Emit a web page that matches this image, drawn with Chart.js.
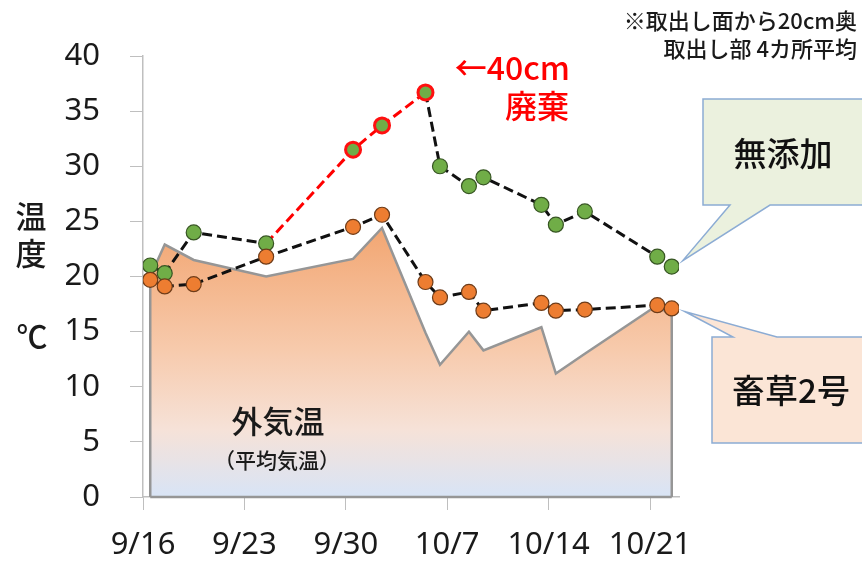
<!DOCTYPE html>
<html>
<head>
<meta charset="utf-8">
<script src="https://cdn.jsdelivr.net/npm/chart.js@4.4.1/dist/chart.umd.min.js"></script>
<style>
  html, body { margin: 0; padding: 0; background: #ffffff; }
  #wrap { width: 862px; height: 562px; position: relative; }
</style>
</head>
<body>
<div id="wrap"><canvas id="c" width="862" height="562"></canvas></div>
<script>
// Sampling dates (month/day)
const dates = ['9/16','9/17','9/19','9/24','9/30','10/2','10/5','10/6','10/8','10/9','10/13','10/14','10/16','10/21','10/22'];
// 無添加 — silage temperature, 20 cm behind the face (°C)
const mutenka = [21.0, 20.3, 24.0, 23.0, 31.5, 33.7, 36.7, 30.0, 28.2, 29.0, 26.5, 24.7, 25.9, 21.8, 20.9];
// readings taken before the top 40 cm was discarded
const discarded = [false, false, false, false, true, true, true, false, false, false, false, false, false, false, false];
// 畜草2号 — silage temperature (°C)
const chikuso = [19.7, 19.1, 19.3, 21.8, 24.5, 25.6, 19.5, 18.1, 18.6, 16.9, 17.6, 16.9, 17.0, 17.4, 17.1];
// 外気温 — daily mean air temperature (°C)
const outside = [20.0, 22.9, 21.5, 20.0, 21.6, 24.4, 14.9, 12.0, 15.0, 13.3, 15.4, 11.2, 13.0, 17.4, 16.4];
// labelled weeks on the date axis
const xTickLabels = ['9/16','9/23','9/30','10/7','10/14','10/21'];
const yMin = 0, yMax = 40, yStep = 5;

const LATIN = '"Noto Sans", "Noto Sans CJK JP", sans-serif';
const CJK = '"Noto Sans CJK JP", "Noto Sans", sans-serif';

// days elapsed since the first sampling date
function dayIndex(md) {
  const [m, d] = md.split('/').map(Number);
  const [m0, d0] = dates[0].split('/').map(Number);
  return (Date.UTC(2000, m - 1, d) - Date.UTC(2000, m0 - 1, d0)) / 86400000;
}
const days = dates.map(dayIndex);
const toPoints = vals => days.map((d, i) => ({ x: d, y: vals[i] }));

// outside-temperature area, closed down to zero at both ends
const areaPoints = [{ x: days[0], y: 0 }, ...toPoints(outside), { x: days[days.length - 1], y: 0 }];

function areaGradient(context) {
  const chart = context.chart;
  const area = chart.chartArea;
  if (!area) return 'rgb(244,180,135)';
  const ys = chart.scales.y;
  const top = ys.getPixelForValue(Math.max(...outside));
  const bottom = ys.getPixelForValue(0);
  const g = chart.ctx.createLinearGradient(0, top, 0, bottom);
  g.addColorStop(0, 'rgb(242,166,114)');
  g.addColorStop(0.45, 'rgb(247,202,172)');
  g.addColorStop(0.75, 'rgb(246,226,216)');
  g.addColorStop(1, 'rgb(216,228,246)');
  return g;
}

const DASH = [10, 5];

// callouts, titles and notes drawn onto the canvas
const decorations = {
  id: 'decorations',
  afterDraw(chart) {
    const ctx = chart.ctx;
    const xs = chart.scales.x, ys = chart.scales.y;
    const last = days.length - 1;
    ctx.save();

    // base edge of the outside-temperature area
    ctx.strokeStyle = 'rgb(150,150,150)';
    ctx.lineWidth = 2.5;
    ctx.beginPath();
    ctx.moveTo(xs.getPixelForValue(days[0]), ys.getPixelForValue(0));
    ctx.lineTo(xs.getPixelForValue(days[last]), ys.getPixelForValue(0));
    ctx.stroke();

    // y-axis title
    ctx.fillStyle = '#1a1a1a';
    ctx.textAlign = 'center';
    ctx.textBaseline = 'middle';
    ctx.font = '500 31px ' + CJK;
    ctx.fillText('温', 31, 216);
    ctx.fillText('度', 31, 253);
    ctx.fillText('℃', 32, 336);

    // outside-temperature label
    ctx.font = '500 31px ' + CJK;
    ctx.fillText('外気温', 278, 421);
    ctx.font = '500 21px ' + CJK;
    ctx.fillText('（平均気温）', 277, 460);

    // discarded note
    ctx.fillStyle = '#ff0000';
    ctx.textAlign = 'right';
    ctx.font = '500 32px ' + CJK;
    ctx.fillText('←40cm', 570, 68);
    ctx.fillText('廃棄', 569, 106);

    // sampling note, top right
    ctx.fillStyle = '#1a1a1a';
    ctx.font = '500 22px ' + CJK;
    ctx.fillText('※取出し面から20cm奥', 857, 21);
    ctx.fillText('取出し部 4カ所平均', 857, 49);

    // callout shapes
    function shape(pts, fill) {
      ctx.beginPath();
      pts.forEach((p, i) => (i ? ctx.lineTo(p[0], p[1]) : ctx.moveTo(p[0], p[1])));
      ctx.closePath();
      ctx.fillStyle = fill;
      ctx.fill();
      ctx.strokeStyle = 'rgb(140,172,212)';
      ctx.lineWidth = 1.5;
      ctx.stroke();
    }
    const gx = xs.getPixelForValue(days[last]) + 11;
    const gy = ys.getPixelForValue(mutenka[last]) - 6;
    shape([[703, 99], [872, 99], [872, 205], [770, 205], [gx, gy], [730, 205], [703, 205]], 'rgb(235,241,222)');
    const ox = xs.getPixelForValue(days[last]) + 13;
    const oy = ys.getPixelForValue(chikuso[last]) + 3;
    shape([[712, 337], [733, 337], [ox, oy], [777, 337], [872, 337], [872, 443], [712, 443]], 'rgb(251,229,214)');

    ctx.fillStyle = '#111';
    ctx.textAlign = 'center';
    ctx.font = '500 33px ' + CJK;
    ctx.fillText('無添加', 783, 153);
    ctx.fillText('畜草2号', 791, 390);
    ctx.restore();
  }
};

new Chart(document.getElementById('c'), {
  type: 'line',
  data: {
    datasets: [
      {
        label: '畜草2号',
        data: toPoints(chikuso),
        order: 0,
        borderColor: '#111',
        borderWidth: 3,
        borderDash: DASH,
        pointRadius: 7.5,
        pointHoverRadius: 7.5,
        pointBackgroundColor: 'rgb(237,125,49)',
        pointBorderColor: 'rgb(110,60,25)',
        pointBorderWidth: 1.2,
        fill: false,
        tension: 0
      },
      {
        label: '無添加',
        data: toPoints(mutenka),
        order: 1,
        borderColor: '#111',
        borderWidth: 3,
        borderDash: DASH,
        segment: {
          borderColor: c => (discarded[c.p1DataIndex] ? '#ff0000' : '#111')
        },
        pointRadius: 7.5,
        pointHoverRadius: 7.5,
        pointBackgroundColor: 'rgb(112,173,71)',
        pointBorderColor: discarded.map(f => (f ? '#ff1010' : 'rgb(55,85,35)')),
        pointBorderWidth: discarded.map(f => (f ? 3 : 1.2)),
        fill: false,
        tension: 0
      },
      {
        label: '外気温',
        data: areaPoints,
        order: 2,
        borderColor: 'rgb(150,150,150)',
        borderWidth: 2.5,
        backgroundColor: areaGradient,
        pointRadius: 0,
        fill: 'origin',
        tension: 0
      }
    ]
  },
  options: {
    responsive: false,
    devicePixelRatio: 1,
    animation: false,
    events: [],
    layout: { padding: { left: 0, top: 56, right: 183, bottom: 0 } },
    plugins: { legend: { display: false }, tooltip: { enabled: false } },
    scales: {
      x: {
        type: 'linear',
        min: days[0] - 0.5,
        max: days[days.length - 1] + 0.5,
        afterFit: s => { s.height = 65; },
        afterBuildTicks: s => { s.ticks = xTickLabels.map(l => ({ value: dayIndex(l) - 0.5 })); },
        ticks: {
          autoSkip: false,
          maxRotation: 0,
          padding: 17,
          color: '#1a1a1a',
          font: { family: LATIN, size: 31 },
          callback: (v, i) => xTickLabels[i]
        },
        grid: { drawOnChartArea: false, drawTicks: true, tickLength: 13, color: '#bfbfbf' },
        border: { display: true, color: '#bfbfbf', width: 1.5 }
      },
      y: {
        min: yMin,
        max: yMax,
        afterFit: s => { s.width = 143; },
        ticks: {
          stepSize: yStep,
          padding: 30,
          color: '#1a1a1a',
          font: { family: LATIN, size: 31 }
        },
        grid: { drawOnChartArea: false, drawTicks: true, tickLength: 13, color: '#bfbfbf' },
        border: { display: true, color: '#bfbfbf', width: 1.5 }
      }
    }
  },
  plugins: [decorations]
});
</script>
</body>
</html>
